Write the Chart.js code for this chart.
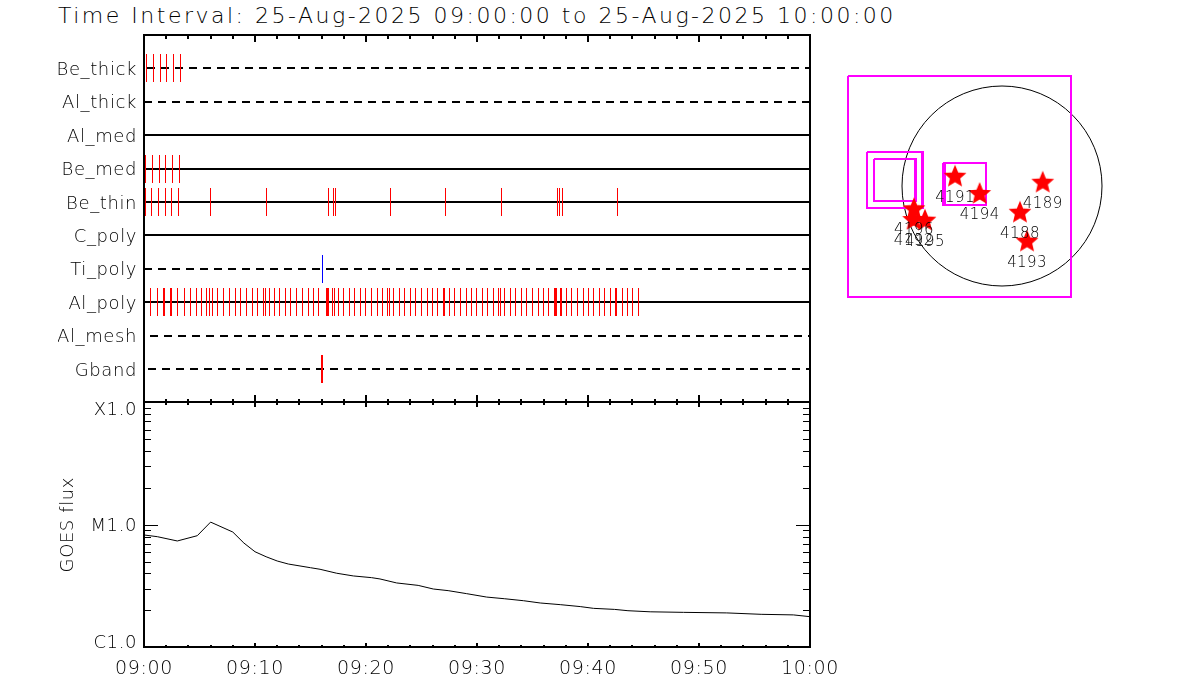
<!DOCTYPE html>
<html>
<head>
<meta charset="utf-8">
<title>Time Interval</title>
<script src="https://cdn.jsdelivr.net/npm/chart.js@4"></script>
<style>
    body { margin: 0; background: #fff; width: 1200px; height: 700px; overflow: hidden; position: relative; }
    #title { position: absolute; left: 58px; top: 3px; font: 200 22px "DejaVu Sans"; letter-spacing: 2.5px; color: #000; white-space: pre; }
    #main { position: absolute; left: 0; top: 0; }
    #map { position: absolute; left: 830px; top: 60px; }
</style>
</head>
<body>
<div id="title">Time Interval: 25-Aug-2025 09:00:00 to 25-Aug-2025 10:00:00</div>
<canvas id="main" width="1200" height="700"></canvas>
<canvas id="map" width="290" height="250"></canvas>
<script>
// filter rows, top to bottom
var rowLabels = ["Be_thick", "Al_thick", "Al_med", "Be_med", "Be_thin", "C_poly", "Ti_poly", "Al_poly", "Al_mesh", "Gband"];
var rowDashed = [true, true, false, false, false, false, true, false, true, true];
var rowStart = [0.23, 0, 0, 0, 0, 0, 0, 0, 0.54, 0.36];
var rowEnd = 60;

// exposure times, minutes after 09:00
var beThick = [0.23, 0.86, 1.49, 2.03, 2.66, 3.29];
var beMed = [0.14, 0.77, 1.40, 1.94, 2.57, 3.20];
var beThin = [0.14, 0.68, 1.31, 1.94, 2.48, 3.11, 5.99, 11.04, 16.62, 17.07, 17.25, 22.21, 27.16, 32.21, 37.25, 37.43, 37.70, 42.66];
var tiPoly = [16.08];
var alPoly = [0.59, 1.22, 1.76, 1.85, 2.39, 2.48, 3.02, 3.65, 4.19, 4.73, 5.18, 5.63, 5.90, 6.17, 6.62, 7.16, 7.70, 8.24, 8.69, 9.23, 9.77,
    10.23, 10.77, 10.95, 11.31, 11.76, 12.21, 12.75, 13.20, 13.74, 14.28, 14.82, 15.27, 15.72, 16.44, 16.53, 16.62, 16.98, 17.16, 17.52, 17.97,
    18.51, 18.97, 19.50, 19.95, 20.50, 21.04, 21.49, 21.94, 22.12, 22.48, 23.02, 23.47, 24.01, 24.46, 25.00, 25.54, 25.99, 26.44, 26.98, 27.07,
    27.52, 27.97, 28.51, 29.05, 29.50, 29.95, 30.50, 30.95, 31.49, 31.94, 32.12, 32.48, 33.02, 33.47, 34.01, 34.46, 35.00, 35.54, 35.99, 36.44,
    36.98, 37.07, 37.16, 37.52, 37.61, 38.06, 38.51, 39.05, 39.59, 40.05, 40.50, 41.04, 41.49, 42.03, 42.48, 42.57, 43.11, 43.56, 44.01, 44.55];
var gband = [15.99, 16.08];

// GOES curve
var goesTime = [0, 1.2, 3, 4.8, 6, 8, 9, 10, 11, 12, 13, 15, 15.86, 17.36, 18.86, 20.5, 21.26, 22.76, 24.7, 26.06, 27.4, 29.07, 30.87,
    32.5, 34.2, 35.7, 37.5, 39.3, 40.5, 42.4, 43.6, 45.6, 48.6, 52.5, 55.6, 58.5, 60];
var goesFlux = [8.24e-6, 7.98e-6, 7.36e-6, 8.13e-6, 1.05e-5, 8.71e-6, 7.08e-6, 6.01e-6, 5.47e-6, 5.05e-6, 4.77e-6, 4.45e-6, 4.32e-6, 4.01e-6,
    3.81e-6, 3.69e-6, 3.60e-6, 3.34e-6, 3.19e-6, 2.98e-6, 2.89e-6, 2.73e-6, 2.56e-6, 2.48e-6, 2.39e-6, 2.29e-6, 2.22e-6, 2.14e-6, 2.07e-6,
    2.03e-6, 1.98e-6, 1.94e-6, 1.92e-6, 1.90e-6, 1.85e-6, 1.83e-6, 1.77e-6];

// axis ticks
var timeLabels = ["09:00", "09:10", "09:20", "09:30", "09:40", "09:50", "10:00"];
var fluxTicks = [1e-6, 1e-5, 1e-4];
var fluxLabels = [["C1.0", ""], "M1.0", ["", "X1.0"]];
var fluxMinor = [2, 3, 4, 5, 6, 7, 8, 9];

// solar map, arcsec
var limbX = [0];
var limbY = [0];
var fovLeft = [-1460, -1285, -1285, -1216, -1216, -558, -540];
var fovRight = [655, -762, -753, -830, -820, -152, -152];
var fovTop = [1048, 323, 323, 256, 256, 221, 221];
var fovBottom = [-1057, -206, -206, -142, -142, -178, -178];
var arName = ["4191", "4194", "4189", "4188", "4193", "4196", "4192", "4195"];
var arX = [-446, -212, 387, 171, 238, -836, -839, -732];
var arY = [88, -76, 31, -254, -529, -221, -323, -329];

var fontName = "DejaVu Sans";
var textColor = "#000";

function points(xs, y) {
    return xs.map(function (x) { return { x: x, y: y }; });
}

function rowValue(i) {
    return rowLabels.length - i;
}

// keep the thin marks and the row lines on whole pixels
var snapPlugin = {
    id: "snap",
    beforeDatasetsDraw: function (chart) {
        chart.data.datasets.forEach(function (ds, i) {
            if (!ds.snap) return;
            chart.getDatasetMeta(i).data.forEach(function (pt) {
                if (ds.snap === "mark") pt.x = Math.floor(pt.x) + 0.5;
                else pt.x = Math.round(pt.x);
                pt.y = Math.round(pt.y);
            });
        });
    },
};

// the frame and the inward IDL style ticks
var framePlugin = {
    id: "frame",
    beforeDraw: function (chart) {
        chart.ctx.letterSpacing = "0.6px";
    },
    afterDatasetsDraw: function (chart) {
        var ctx = chart.ctx;
        var a = chart.chartArea;
        var xs = chart.scales.x;
        var fs = chart.scales.flux;
        var mid = Math.round(fs.top);

        function seg(x1, y1, x2, y2, w) {
            ctx.lineWidth = w;
            ctx.beginPath();
            ctx.moveTo(x1, y1);
            ctx.lineTo(x2, y2);
            ctx.stroke();
        }

        ctx.save();
        ctx.strokeStyle = "#000";
        seg(a.left, a.top - 1, a.left, a.bottom + 1, 2);
        seg(a.right, a.top - 1, a.right, a.bottom + 1, 2);
        seg(a.left, a.top, a.right, a.top, 2);
        seg(a.left, mid, a.right, mid, 2);
        seg(a.left, a.bottom, a.right, a.bottom, 2);

        for (var m = 0; m <= 60; m += 2) {
            var x = Math.round(xs.getPixelForValue(m));
            var major = m % 10 === 0;
            seg(x, a.top, x, a.top + (major ? 7 : 4), 2);
            seg(x, mid - (major ? 7 : 3), x, mid + (major ? 5 : 3), 2);
            seg(x, a.bottom, x, a.bottom - (major ? 4 : 2), 2);
        }

        fluxTicks.forEach(function (decade, d) {
            if (d === 1) {
                var ym = Math.round(fs.getPixelForValue(decade)) + 0.5;
                seg(a.left, ym, a.left + 14, ym, 1);
                seg(a.right, ym, a.right - 14, ym, 1);
            }
            if (d === 2) return;
            fluxMinor.forEach(function (k) {
                var y = Math.round(fs.getPixelForValue(decade * k)) + 0.5;
                seg(a.left, y, a.left + 7, y, 1);
                seg(a.right, y, a.right - 7, y, 1);
            });
        });
        ctx.restore();
    },
};

var mainSets = [];
rowLabels.forEach(function (name, i) {
    mainSets.push({
        label: name + " line",
        data: [{ x: rowStart[i], y: rowValue(i) }, { x: rowEnd, y: rowValue(i) }],
        yAxisID: "rows",
        showLine: true,
        borderColor: "#000",
        borderWidth: 2,
        borderDash: rowDashed[i] ? [8, 6] : [],
        pointRadius: 0,
        snap: "line",
        order: 3,
    });
});

function markSet(name, times, color) {
    return {
        label: name,
        data: points(times, rowValue(rowLabels.indexOf(name))),
        yAxisID: "rows",
        showLine: false,
        pointStyle: "line",
        pointRotation: 90,
        pointRadius: 14,
        pointBorderWidth: 1,
        pointBorderColor: color,
        snap: "mark",
        order: 1,
    };
}

mainSets.push(markSet("Be_thick", beThick, "#ff0000"));
mainSets.push(markSet("Be_med", beMed, "#ff0000"));
mainSets.push(markSet("Be_thin", beThin, "#ff0000"));
mainSets.push(markSet("Ti_poly", tiPoly, "#0000ff"));
mainSets.push(markSet("Al_poly", alPoly, "#ff0000"));
mainSets.push(markSet("Gband", gband, "#ff0000"));
mainSets.push({
    label: "GOES flux",
    data: goesTime.map(function (t, i) { return { x: t, y: goesFlux[i] }; }),
    yAxisID: "flux",
    showLine: true,
    borderColor: "#000",
    borderWidth: 1,
    pointRadius: 0,
    tension: 0,
    order: 2,
});

new Chart(document.getElementById("main"), {
    type: "scatter",
    data: { datasets: mainSets },
    options: {
        responsive: false,
        animation: false,
        devicePixelRatio: 1,
        layout: { autoPadding: false, padding: { left: 58, right: 390, top: 35, bottom: 0 } },
        plugins: { legend: { display: false }, tooltip: { enabled: false } },
        scales: {
            x: {
                type: "linear",
                min: 0,
                max: 60,
                grid: { display: false, drawTicks: false },
                border: { display: false },
                afterFit: function (scale) { scale.height = 53; },
                ticks: {
                    stepSize: 10,
                    autoSkip: false,
                    maxRotation: 0,
                    padding: 11,
                    color: textColor,
                    font: { family: fontName, size: 19, weight: "200" },
                    callback: function (v) { return timeLabels[v / 10]; },
                },
            },
            rows: {
                type: "linear",
                position: "left",
                stack: "panels",
                stackWeight: 367.4,
                weight: 1,
                min: 0,
                max: 11,
                grid: { display: false, drawTicks: false },
                border: { display: false },
                afterFit: function (scale) { scale.width = 86; },
                ticks: {
                    stepSize: 1,
                    autoSkip: false,
                    padding: 7,
                    labelOffset: 2,
                    color: textColor,
                    font: { family: fontName, size: 18, weight: "200" },
                    callback: function (v) { return rowLabels[rowLabels.length - v] || ""; },
                },
            },
            flux: {
                type: "logarithmic",
                position: "left",
                stack: "panels",
                stackWeight: 244.6,
                weight: 0,
                min: 1e-6,
                max: 1e-4,
                grid: { display: false, drawTicks: false },
                border: { display: false },
                afterFit: function (scale) { scale.width = 86; },
                afterBuildTicks: function (scale) {
                    scale.ticks = fluxTicks.map(function (v) { return { value: v }; });
                },
                title: {
                    display: true,
                    text: "GOES flux",
                    color: textColor,
                    padding: 0,
                    font: { family: fontName, size: 18, weight: "200" },
                },
                ticks: {
                    autoSkip: false,
                    padding: 7,
                    labelOffset: 2,
                    color: textColor,
                    font: { family: fontName, size: 18, weight: "200", lineHeight: 0.67 },
                    callback: function (v) { return fluxLabels[fluxTicks.indexOf(v)]; },
                },
            },
        },
    },
    plugins: [snapPlugin, framePlugin],
});

// filled five point star for the active regions
function starImage(r) {
    var size = Math.ceil(r * 2) + 2;
    var c = document.createElement("canvas");
    c.width = size;
    c.height = size;
    var g = c.getContext("2d");
    g.fillStyle = "#ff0000";
    g.beginPath();
    for (var i = 0; i < 10; i++) {
        var rad = i % 2 === 0 ? r : r * 0.45;
        var ang = -Math.PI / 2 + (i * Math.PI) / 5;
        g.lineTo(size / 2 + rad * Math.cos(ang), size / 2 + rad * Math.sin(ang));
    }
    g.closePath();
    g.fill();
    return c;
}

var arLabelPlugin = {
    id: "arLabels",
    afterDatasetsDraw: function (chart) {
        var ctx = chart.ctx;
        ctx.save();
        ctx.fillStyle = textColor;
        ctx.font = "200 15px '" + fontName + "'";
        ctx.letterSpacing = "0.4px";
        ctx.textAlign = "center";
        ctx.textBaseline = "middle";
        arName.forEach(function (name, i) {
            ctx.fillText(name, chart.scales.x.getPixelForValue(arX[i]), chart.scales.y.getPixelForValue(arY[i]) + 21);
        });
        ctx.restore();
    },
};

var mapSets = [{
    label: "limb",
    data: limbX.map(function (x, i) { return { x: x, y: limbY[i] }; }),
    pointRadius: 100,
    pointBackgroundColor: "rgba(0,0,0,0)",
    pointBorderColor: "#000",
    pointBorderWidth: 1,
    clip: false,
    order: 3,
}, {
    label: "active regions",
    data: arX.map(function (x, i) { return { x: x, y: arY[i] }; }),
    pointStyle: starImage(12),
    pointBorderWidth: 0,
    order: 1,
}];

fovLeft.forEach(function (left, i) {
    mapSets.push({
        label: "fov " + i,
        data: [
            { x: left, y: fovTop[i] },
            { x: fovRight[i], y: fovTop[i] },
            { x: fovRight[i], y: fovBottom[i] },
            { x: left, y: fovBottom[i] },
            { x: left, y: fovTop[i] },
        ],
        showLine: true,
        borderColor: "#ff00ff",
        borderWidth: 2,
        pointRadius: 0,
        snap: "line",
        order: 2,
    });
});

new Chart(document.getElementById("map"), {
    type: "scatter",
    data: { datasets: mapSets },
    options: {
        responsive: false,
        animation: false,
        devicePixelRatio: 1,
        layout: { autoPadding: false },
        plugins: { legend: { display: false }, tooltip: { enabled: false } },
        scales: {
            x: { type: "linear", display: false, min: -1634, max: 1121 },
            y: { type: "linear", display: false, min: -1178, max: 1197 },
        },
    },
    plugins: [snapPlugin, arLabelPlugin],
});
</script>
</body>
</html>
